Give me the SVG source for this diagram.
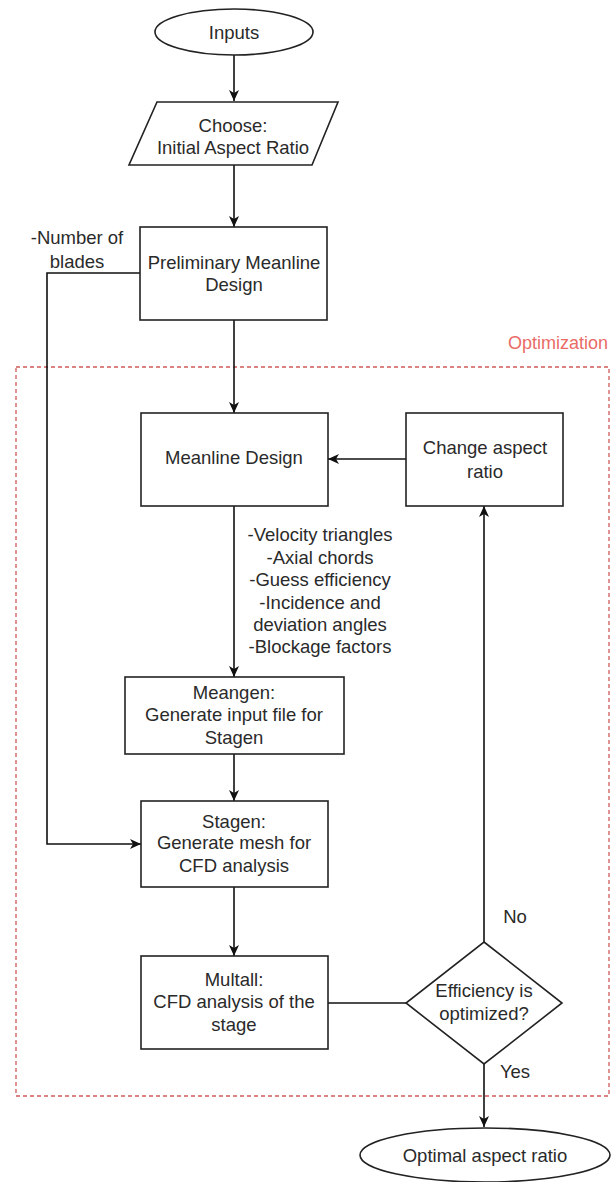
<svg xmlns="http://www.w3.org/2000/svg" width="611" height="1182" viewBox="0 0 611 1182">
<defs>
<style>
.n{fill:#fff;stroke:#222;stroke-width:1.6}
.t{font-family:"Liberation Sans",Arial,sans-serif;font-size:18.5px;fill:#2a2a2a;text-anchor:middle}
.c{fill:none;stroke:#111;stroke-width:1.6}
.opt{fill:none;stroke:#d05a5a;stroke-width:1.3;stroke-dasharray:4 3}
.ot{font-family:"Liberation Sans",Arial,sans-serif;font-size:18px;fill:#ea6b66;text-anchor:end}
</style>
<marker id="ah" markerWidth="12" markerHeight="12" viewBox="0 0 12 12" refX="11" refY="6" orient="auto" markerUnits="userSpaceOnUse">
<path d="M0,1 L11,6 L0,11 L3,6 Z" fill="#111"/>
</marker>
</defs>
<rect class="opt" x="16" y="367" width="593" height="729"/>
<text class="ot" x="608" y="349">Optimization</text>
<g id="connectors">
<path class="c" d="M234,55 V101" marker-end="url(#ah)"/>
<path class="c" d="M234,165 V227" marker-end="url(#ah)"/>
<path class="c" d="M234,320 V413" marker-end="url(#ah)"/>
<path class="c" d="M140,273 H47 V844 H141" marker-end="url(#ah)"/>
<path class="c" d="M406,459 H328" marker-end="url(#ah)"/>
<path class="c" d="M234,506 V677" marker-end="url(#ah)"/>
<path class="c" d="M234,754 V801" marker-end="url(#ah)"/>
<path class="c" d="M234,887 V956" marker-end="url(#ah)"/>
<path class="c" d="M328,1003 H406"/>
<path class="c" d="M484,942 V506" marker-end="url(#ah)"/>
<path class="c" d="M484,1064 V1127" marker-end="url(#ah)"/>
<text class="t" x="77" y="244">-Number of</text>
<text class="t" x="77" y="268">blades</text>
<text class="t" x="320" y="541">-Velocity triangles</text>
<text class="t" x="320" y="564">-Axial chords</text>
<text class="t" x="320" y="586">-Guess efficiency</text>
<text class="t" x="320" y="609">-Incidence and</text>
<text class="t" x="320" y="631">deviation angles</text>
<text class="t" x="320" y="653">-Blockage factors</text>
<text class="t" x="515" y="923">No</text>
<text class="t" x="515" y="1078">Yes</text>
</g>
<g id="inputs">
<ellipse class="n" cx="234" cy="32" rx="79" ry="23"/>
<text class="t" x="234" y="38.5">Inputs</text>
</g>
<g id="choose">
<polygon class="n" points="157,102 338,102 312,165 129,165"/>
<text class="t" x="233" y="131.5">Choose:</text>
<text class="t" x="233" y="153.5">Initial Aspect Ratio</text>
</g>
<g id="preliminary">
<rect class="n" x="140" y="227" width="187" height="93"/>
<text class="t" x="234" y="269">Preliminary Meanline</text>
<text class="t" x="234" y="291">Design</text>
</g>
<g id="meanline">
<rect class="n" x="141" y="413" width="187" height="93"/>
<text class="t" x="234" y="464">Meanline Design</text>
</g>
<g id="change">
<rect class="n" x="406" y="413" width="157" height="93"/>
<text class="t" x="485" y="454">Change aspect</text>
<text class="t" x="485" y="478">ratio</text>
</g>
<g id="meangen">
<rect class="n" x="125" y="677" width="219" height="77"/>
<text class="t" x="234" y="699">Meangen:</text>
<text class="t" x="234" y="721">Generate input file for</text>
<text class="t" x="234" y="744">Stagen</text>
</g>
<g id="stagen">
<rect class="n" x="141" y="801" width="187" height="86"/>
<text class="t" x="234" y="828">Stagen:</text>
<text class="t" x="234" y="849">Generate mesh for</text>
<text class="t" x="234" y="872">CFD analysis</text>
</g>
<g id="multall">
<rect class="n" x="141" y="956" width="187" height="93"/>
<text class="t" x="234" y="986">Multall:</text>
<text class="t" x="234" y="1008">CFD analysis of the</text>
<text class="t" x="234" y="1031">stage</text>
</g>
<g id="decision">
<polygon class="n" points="484,942 562,1003 484,1064 406,1003"/>
<text class="t" x="484" y="997">Efficiency is</text>
<text class="t" x="484" y="1020">optimized?</text>
</g>
<g id="optimal">
<ellipse class="n" cx="485" cy="1155" rx="125" ry="27"/>
<text class="t" x="485" y="1162">Optimal aspect ratio</text>
</g>
</svg>
